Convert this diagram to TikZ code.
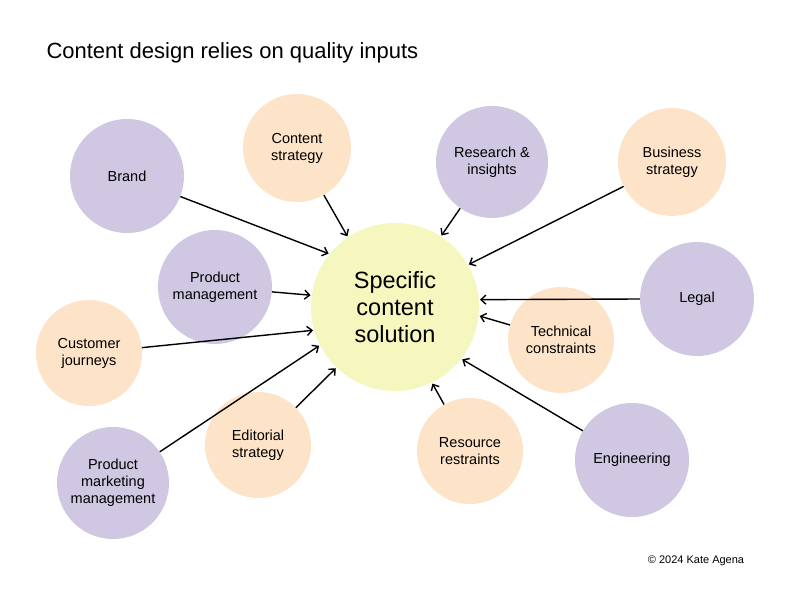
\documentclass[tikz,border=0pt]{standalone}
\usepackage{fontspec}
\setmainfont{Liberation Sans}
\usetikzlibrary{arrows.meta}
\definecolor{purp}{HTML}{D0C7E2}
\definecolor{peach}{HTML}{FDE3C8}
\definecolor{yel}{HTML}{F5F7BE}
\begin{document}
\begin{tikzpicture}[x=1pt,y=-1pt,
  bub/.style={circle,draw=none,align=center,font=\fontsize{14.5}{17}\selectfont,inner sep=0pt},
  p/.style={bub,fill=purp},
  o/.style={bub,fill=peach},
  arr/.style={line width=1.4pt,-{Straight Barb[length=5pt,width=9pt]},shorten >=1pt}]
\useasboundingbox[fill=white] (0,0) rectangle (792,612);
\node[anchor=west,font=\fontsize{22}{26}\selectfont] (title) at (43,53) {Content design relies on quality inputs};
\node[bub,fill=yel,minimum size=168pt,font=\fontsize{23.5}{27}\selectfont] (sol) at (395,307) {Specific\\content\\solution};
\node[p,minimum size=114pt] (brand) at (127,176) {Brand};
\node[o,minimum size=108pt] (cs) at (297,148) {Content\\strategy};
\node[p,minimum size=112pt] (ri) at (492,162) {Research \&\\insights};
\node[o,minimum size=108pt] (bs) at (672,162) {Business\\strategy};
\node[p,minimum size=114pt] (pm) at (215,287) {Product\\management};
\node[p,minimum size=114pt] (legal) at (697,299) {Legal};
\node[o,minimum size=106pt] (cj) at (89,353) {Customer\\journeys};
\node[o,minimum size=106pt] (tc) at (561,340) {Technical\\constraints};
\node[o,minimum size=106pt] (es) at (258,445) {Editorial\\strategy};
\node[o,minimum size=106pt] (rr) at (470,451) {Resource\\restraints};
\node[p,minimum size=114pt] (eng) at (632,460) {Engineering};
\node[p,minimum size=112pt] (pmm) at (113,483) {Product\\marketing\\management};
\draw[arr] (brand) -- (sol.141);
\draw[arr] (cs) -- (sol.124);
\draw[arr] (ri) -- (sol.57);
\draw[arr] (bs) -- (sol.30);
\draw[arr] (pm) -- (sol.172);
\draw[arr] (legal.180) -- (sol.5);
\draw[arr] (cj) -- (sol.196);
\draw[arr] (tc) -- (sol.354);
\draw[arr] (pmm) -- (sol.207);
\draw[arr] (es) -- (sol.226);
\draw[arr] (rr) -- (sol.296);
\draw[arr] (eng) -- (sol.322);
\node[font=\fontsize{11}{13}\selectfont] (copy) at (696,561) {© 2024 Kate Agena};
\end{tikzpicture}
\end{document}
